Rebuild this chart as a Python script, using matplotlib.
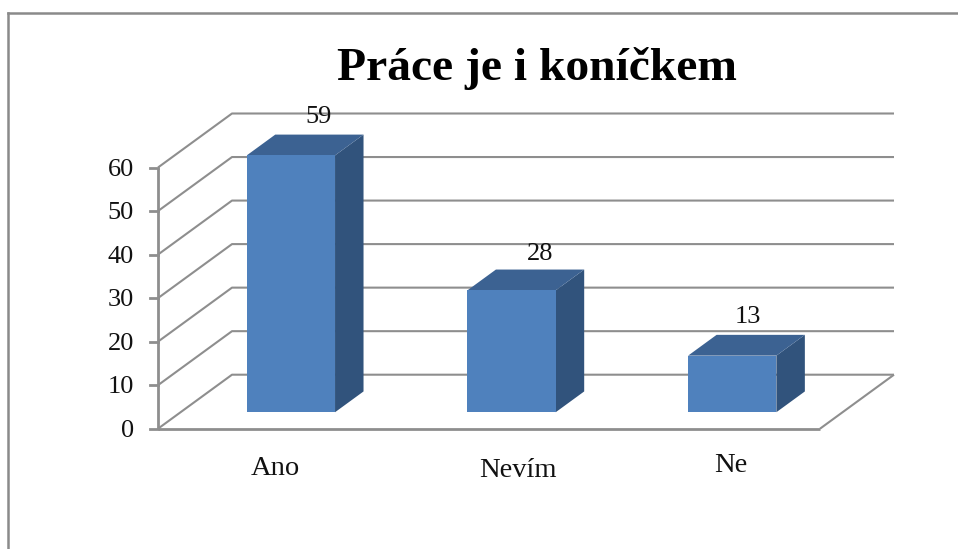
"""3D-look column chart drawn on plain 2D axes."""

import matplotlib

matplotlib.use("Agg")
import matplotlib.pyplot as plt
from matplotlib.lines import Line2D
from matplotlib.patches import Polygon

# data
title = "Práce je i koníčkem"
categories = ["Ano", "Nevím", "Ne"]
values = [59, 28, 13]
y_ticks = [0, 10, 20, 30, 40, 50, 60]

# layout, in pixels of the 958x549 picture
W, H = 958, 549
LEFT, RIGHT = 158, 820
FLOOR, TOP = 428.7, 167.5
DEPTH_X_PX, DEPTH_Y_PX = 74, 54

# colours
GRID = "#8e8e8e"
FRONT = "#4f81bd"
ROOF = "#3c6292"
SIDE = "#31537c"

plt.rcParams["font.family"] = ["Liberation Serif", "DejaVu Serif"]

fig = plt.figure(figsize=(W / 100, H / 100), dpi=100, facecolor="white")
ax = fig.add_axes(
    [LEFT / W, 1 - FLOOR / H, (RIGHT - LEFT) / W, (FLOOR - TOP) / H]
)
ax.set_xlim(0, len(categories))
ax.set_ylim(0, 60)
ax.axis("off")

# depth of the box in data units
dx = DEPTH_X_PX / ((RIGHT - LEFT) / len(categories))
dy = DEPTH_Y_PX / ((FLOOR - TOP) / 60)


def project(x, v, depth):
    """x (kategorie), v (hodnota), depth 0 = vpredu, 1 = vzadu"""
    return x + depth * dx, v + depth * dy


def grid_line(xs, ys, lw=1.5):
    ax.plot(xs, ys, color=GRID, lw=lw, clip_on=False, solid_capstyle="butt", zorder=1)


# walls and floor
n = len(categories)
for v in y_ticks:
    x0, y0 = project(0, v, 0)
    x1, y1 = project(0, v, 1)
    x2, y2 = project(n, v, 1)
    grid_line([x0, x1, x2], [y0, y1, y2])
    # tick
    ax.plot([-8 / ((RIGHT - LEFT) / n), 0], [v, v], color=GRID, lw=2, clip_on=False, zorder=1)
    ax.annotate(
        str(v), (0, v), xytext=(-24, -2), textcoords="offset pixels",
        ha="right", va="center", fontsize=19, color="#111111", annotation_clip=False,
    )

grid_line([0, 0], [0, 60], lw=2)
grid_line([0, n], [0, 0], lw=2)
fx, fy = project(n, 0, 1)
grid_line([n, fx], [0, fy])

# bars
bar_half = 0.2
bar_front = 0.305
bar_back = 0.69
for i, v in enumerate(values):
    xl = i + 0.5 - bar_half
    xr = i + 0.5 + bar_half
    front = [project(xl, 0, bar_front), project(xr, 0, bar_front),
             project(xr, v, bar_front), project(xl, v, bar_front)]
    roof = [project(xl, v, bar_front), project(xr, v, bar_front),
            project(xr, v, bar_back), project(xl, v, bar_back)]
    side = [project(xr, 0, bar_front), project(xr, 0, bar_back),
            project(xr, v, bar_back), project(xr, v, bar_front)]
    ax.add_patch(Polygon(side, fc=SIDE, ec="none", clip_on=False, zorder=3))
    ax.add_patch(Polygon(roof, fc=ROOF, ec="none", clip_on=False, zorder=3))
    ax.add_patch(Polygon(front, fc=FRONT, ec="none", clip_on=False, zorder=4))

# value labels (pixel offsets from the bar's front top centre)
value_offsets = [(28, 38), (29, 36), (16, 39)]
for i, v in enumerate(values):
    ax.annotate(
        str(v), project(i + 0.5, v, bar_front), xytext=value_offsets[i],
        textcoords="offset pixels", ha="center", va="center",
        fontsize=19, color="#111111", annotation_clip=False, zorder=6,
    )

# category labels
label_offsets = [(7, -40), (29, -42), (21, -37)]
for i, name in enumerate(categories):
    ax.annotate(
        name, (i + 0.5, 0), xytext=label_offsets[i],
        textcoords="offset pixels", ha="center", va="center",
        fontsize=20.5, color="#111111", annotation_clip=False,
    )

fig.text(537 / W, 1 - 80 / H, title, ha="center", va="baseline",
         fontsize=34.2, fontweight="bold", color="black")

# chart frame: only the top and left edges are inside the picture
fig.add_artist(Line2D([8 / W, 8 / W], [0, 1 - 13 / H], color="#8a8a8a", lw=1.8))
fig.add_artist(Line2D([8 / W, 1], [1 - 13 / H, 1 - 13 / H], color="#8a8a8a", lw=1.8))

fig.savefig("out.png", dpi=100)
